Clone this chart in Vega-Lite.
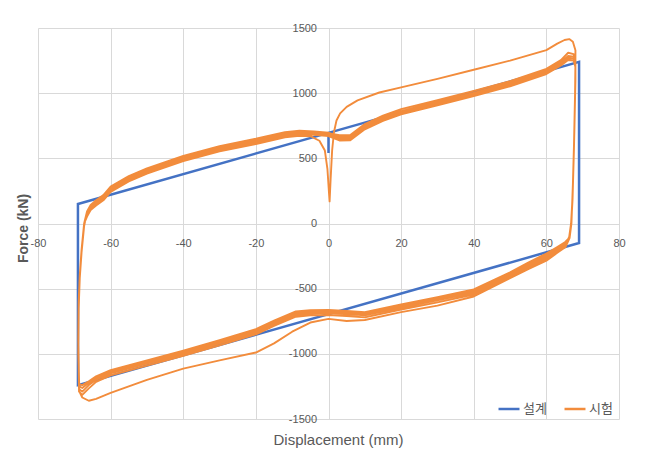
{
 "$schema": "https://vega.github.io/schema/vega-lite/v6.json",
 "width": 581, "height": 391,
 "autosize": "none",
 "padding": {"left": 38, "top": 28, "right": 28, "bottom": 40},
 "background": "white",
 "config": {"view": {"stroke": null}, "font": "Liberation Sans"},
 "data": {"values": [
  {"s":"설계","x":0,"y":540},{"s":"설계","x":0,"y":695},{"s":"설계","x":69,"y":1240},{"s":"설계","x":69,"y":-150},{"s":"설계","x":-69,"y":-1240},{"s":"설계","x":-69,"y":150},{"s":"설계","x":0,"y":695},
  {"s":"시험","x":0.3,"y":170},{"s":"시험","x":0.6,"y":350},{"s":"시험","x":1,"y":560},{"s":"시험","x":1.5,"y":700},{"s":"시험","x":2.2,"y":790},{"s":"시험","x":3.2,"y":845},{"s":"시험","x":5,"y":895},{"s":"시험","x":8,"y":945},{"s":"시험","x":14,"y":1005},{"s":"시험","x":20,"y":1045},{"s":"시험","x":30,"y":1110},{"s":"시험","x":40,"y":1180},{"s":"시험","x":50,"y":1250},{"s":"시험","x":60,"y":1330},{"s":"시험","x":63,"y":1380},{"s":"시험","x":65,"y":1408},{"s":"시험","x":66.3,"y":1415},{"s":"시험","x":67.3,"y":1395},{"s":"시험","x":68,"y":1330},
  {"s":"시험","x":68,"y":1100},{"s":"시험","x":67.7,"y":700},{"s":"시험","x":67.3,"y":300},{"s":"시험","x":66.9,"y":0},{"s":"시험","x":66.4,"y":-110},{"s":"시험","x":65.3,"y":-180},{"s":"시험","x":63,"y":-225},{"s":"시험","x":60,"y":-285},{"s":"시험","x":55,"y":-350},{"s":"시험","x":50,"y":-420},{"s":"시험","x":40,"y":-560},{"s":"시험","x":30,"y":-630},{"s":"시험","x":20,"y":-680},{"s":"시험","x":10,"y":-740},{"s":"시험","x":5,"y":-748},{"s":"시험","x":0,"y":-732},{"s":"시험","x":-5,"y":-760},{"s":"시험","x":-10,"y":-830},{"s":"시험","x":-15,"y":-920},{"s":"시험","x":-20,"y":-990},{"s":"시험","x":-30,"y":-1050},{"s":"시험","x":-40,"y":-1113},{"s":"시험","x":-50,"y":-1200},{"s":"시험","x":-60,"y":-1300},{"s":"시험","x":-64,"y":-1345},{"s":"시험","x":-66,"y":-1360},{"s":"시험","x":-67.8,"y":-1335},{"s":"시험","x":-68.6,"y":-1290},
  {"s":"시험","x":-68.9,"y":-1000},{"s":"시험","x":-68.8,"y":-650},{"s":"시험","x":-68.5,"y":-420},{"s":"시험","x":-68,"y":-220},{"s":"시험","x":-67.3,"y":-20},{"s":"시험","x":-66.5,"y":85},{"s":"시험","x":-65.5,"y":140},{"s":"시험","x":-64,"y":175},{"s":"시험","x":-62,"y":215},{"s":"시험","x":-60,"y":280},{"s":"시험","x":-55,"y":360},{"s":"시험","x":-50,"y":420},{"s":"시험","x":-40,"y":515},{"s":"시험","x":-30,"y":590},{"s":"시험","x":-20,"y":647},{"s":"시험","x":-12,"y":698},{"s":"시험","x":-8,"y":708},{"s":"시험","x":-4,"y":703},{"s":"시험","x":0,"y":693},
  {"s":"시험","x":3,"y":677},{"s":"시험","x":6,"y":679},{"s":"시험","x":10,"y":763},{"s":"시험","x":15,"y":827},{"s":"시험","x":20,"y":877},{"s":"시험","x":30,"y":947},{"s":"시험","x":40,"y":1017},{"s":"시험","x":50,"y":1093},{"s":"시험","x":60,"y":1187},{"s":"시험","x":64,"y":1253},{"s":"시험","x":66,"y":1310},{"s":"시험","x":67.5,"y":1300},{"s":"시험","x":68,"y":1240},
  {"s":"시험","x":67.9,"y":1000},{"s":"시험","x":67.6,"y":600},{"s":"시험","x":67.2,"y":200},{"s":"시험","x":66.8,"y":0},{"s":"시험","x":66.3,"y":-100},{"s":"시험","x":65.2,"y":-170},{"s":"시험","x":63,"y":-220},{"s":"시험","x":60,"y":-270},{"s":"시험","x":55,"y":-340},{"s":"시험","x":50,"y":-415},{"s":"시험","x":40,"y":-545},{"s":"시험","x":30,"y":-605},{"s":"시험","x":20,"y":-660},{"s":"시험","x":10,"y":-720},{"s":"시험","x":5,"y":-710},{"s":"시험","x":0,"y":-703},{"s":"시험","x":-5,"y":-705},{"s":"시험","x":-9,"y":-715},{"s":"시험","x":-15,"y":-785},{"s":"시험","x":-20,"y":-850},{"s":"시험","x":-30,"y":-935},{"s":"시험","x":-40,"y":-1015},{"s":"시험","x":-50,"y":-1090},{"s":"시험","x":-60,"y":-1165},{"s":"시험","x":-64,"y":-1215},{"s":"시험","x":-66,"y":-1265},{"s":"시험","x":-67.8,"y":-1315},{"s":"시험","x":-68.7,"y":-1290},
  {"s":"시험","x":-68.9,"y":-900},{"s":"시험","x":-68.8,"y":-600},{"s":"시험","x":-68.5,"y":-400},{"s":"시험","x":-68,"y":-200},{"s":"시험","x":-67.3,"y":0},{"s":"시험","x":-66.5,"y":93},{"s":"시험","x":-65.5,"y":143},{"s":"시험","x":-64,"y":178},{"s":"시험","x":-62,"y":218},{"s":"시험","x":-60,"y":283},{"s":"시험","x":-55,"y":363},{"s":"시험","x":-50,"y":423},{"s":"시험","x":-40,"y":518},{"s":"시험","x":-30,"y":593},{"s":"시험","x":-20,"y":650},{"s":"시험","x":-12,"y":701},{"s":"시험","x":-8,"y":712},{"s":"시험","x":-4,"y":707},{"s":"시험","x":0,"y":697},
  {"s":"시험","x":3,"y":662},{"s":"시험","x":6,"y":664},{"s":"시험","x":10,"y":748},{"s":"시험","x":15,"y":812},{"s":"시험","x":20,"y":862},{"s":"시험","x":30,"y":932},{"s":"시험","x":40,"y":1002},{"s":"시험","x":50,"y":1078},{"s":"시험","x":60,"y":1172},{"s":"시험","x":64,"y":1238},{"s":"시험","x":66,"y":1285},{"s":"시험","x":67.5,"y":1280},{"s":"시험","x":68,"y":1225},
  {"s":"시험","x":67.9,"y":990},{"s":"시험","x":67.6,"y":590},{"s":"시험","x":67.2,"y":190},{"s":"시험","x":66.8,"y":-10},{"s":"시험","x":66.3,"y":-105},{"s":"시험","x":65.2,"y":-160},{"s":"시험","x":63,"y":-205},{"s":"시험","x":60,"y":-255},{"s":"시험","x":55,"y":-325},{"s":"시험","x":50,"y":-400},{"s":"시험","x":40,"y":-530},{"s":"시험","x":30,"y":-590},{"s":"시험","x":20,"y":-645},{"s":"시험","x":10,"y":-705},{"s":"시험","x":5,"y":-695},{"s":"시험","x":0,"y":-688},{"s":"시험","x":-5,"y":-690},{"s":"시험","x":-9,"y":-700},{"s":"시험","x":-15,"y":-770},{"s":"시험","x":-20,"y":-835},{"s":"시험","x":-30,"y":-920},{"s":"시험","x":-40,"y":-1000},{"s":"시험","x":-50,"y":-1075},{"s":"시험","x":-60,"y":-1150},{"s":"시험","x":-64,"y":-1198},{"s":"시험","x":-66,"y":-1240},{"s":"시험","x":-67.8,"y":-1290},{"s":"시험","x":-68.7,"y":-1270},
  {"s":"시험","x":-68.9,"y":-900},{"s":"시험","x":-68.8,"y":-600},{"s":"시험","x":-68.5,"y":-400},{"s":"시험","x":-68,"y":-200},{"s":"시험","x":-67.3,"y":0},{"s":"시험","x":-66.5,"y":78},{"s":"시험","x":-65.5,"y":128},{"s":"시험","x":-64,"y":163},{"s":"시험","x":-62,"y":203},{"s":"시험","x":-60,"y":268},{"s":"시험","x":-55,"y":348},{"s":"시험","x":-50,"y":408},{"s":"시험","x":-40,"y":503},{"s":"시험","x":-30,"y":578},{"s":"시험","x":-20,"y":635},{"s":"시험","x":-12,"y":686},{"s":"시험","x":-8,"y":697},{"s":"시험","x":-4,"y":692},{"s":"시험","x":0,"y":682},
  {"s":"시험","x":3,"y":650},{"s":"시험","x":6,"y":652},{"s":"시험","x":10,"y":736},{"s":"시험","x":15,"y":800},{"s":"시험","x":20,"y":850},{"s":"시험","x":30,"y":920},{"s":"시험","x":40,"y":990},{"s":"시험","x":50,"y":1066},{"s":"시험","x":60,"y":1160},{"s":"시험","x":64,"y":1226},{"s":"시험","x":66,"y":1270},{"s":"시험","x":67.5,"y":1265},{"s":"시험","x":68,"y":1212},
  {"s":"시험","x":67.9,"y":980},{"s":"시험","x":67.6,"y":585},{"s":"시험","x":67.2,"y":185},{"s":"시험","x":66.8,"y":-15},{"s":"시험","x":66.3,"y":-108},{"s":"시험","x":65.2,"y":-152},{"s":"시험","x":63,"y":-193},{"s":"시험","x":60,"y":-243},{"s":"시험","x":55,"y":-313},{"s":"시험","x":50,"y":-388},{"s":"시험","x":40,"y":-518},{"s":"시험","x":30,"y":-578},{"s":"시험","x":20,"y":-633},{"s":"시험","x":10,"y":-693},{"s":"시험","x":5,"y":-683},{"s":"시험","x":0,"y":-676},{"s":"시험","x":-5,"y":-678},{"s":"시험","x":-9,"y":-688},{"s":"시험","x":-15,"y":-758},{"s":"시험","x":-20,"y":-823},{"s":"시험","x":-30,"y":-908},{"s":"시험","x":-40,"y":-988},{"s":"시험","x":-50,"y":-1063},{"s":"시험","x":-60,"y":-1138},{"s":"시험","x":-64,"y":-1186},{"s":"시험","x":-66,"y":-1222},{"s":"시험","x":-67.8,"y":-1262},{"s":"시험","x":-68.7,"y":-1250},
  {"s":"시험","x":-68.9,"y":-900},{"s":"시험","x":-68.8,"y":-600},{"s":"시험","x":-68.5,"y":-400},{"s":"시험","x":-68,"y":-200},{"s":"시험","x":-67.3,"y":0},{"s":"시험","x":-66.5,"y":66},{"s":"시험","x":-65.5,"y":116},{"s":"시험","x":-64,"y":151},{"s":"시험","x":-62,"y":191},{"s":"시험","x":-60,"y":256},{"s":"시험","x":-55,"y":336},{"s":"시험","x":-50,"y":396},{"s":"시험","x":-40,"y":491},{"s":"시험","x":-30,"y":566},{"s":"시험","x":-20,"y":623},{"s":"시험","x":-12,"y":674},{"s":"시험","x":-8,"y":685},{"s":"시험","x":-4,"y":680},{"s":"시험","x":0,"y":670},
  {"s":"시험","x":3,"y":637},{"s":"시험","x":6,"y":639},{"s":"시험","x":10,"y":723},{"s":"시험","x":15,"y":787},{"s":"시험","x":20,"y":837},{"s":"시험","x":30,"y":907},{"s":"시험","x":40,"y":977},{"s":"시험","x":50,"y":1053},{"s":"시험","x":60,"y":1147},{"s":"시험","x":64,"y":1213},{"s":"시험","x":66,"y":1255},{"s":"시험","x":67.5,"y":1250},{"s":"시험","x":68,"y":1200},
  {"s":"시험","x":67.9,"y":975},{"s":"시험","x":67.6,"y":580},{"s":"시험","x":67.2,"y":180},{"s":"시험","x":66.8,"y":-18},{"s":"시험","x":66.3,"y":-110},{"s":"시험","x":65.2,"y":-142},{"s":"시험","x":63,"y":-180},{"s":"시험","x":60,"y":-230},{"s":"시험","x":55,"y":-300},{"s":"시험","x":50,"y":-375},{"s":"시험","x":40,"y":-505},{"s":"시험","x":30,"y":-565},{"s":"시험","x":20,"y":-620},{"s":"시험","x":10,"y":-680},{"s":"시험","x":5,"y":-670},{"s":"시험","x":0,"y":-663},{"s":"시험","x":-5,"y":-665},{"s":"시험","x":-9,"y":-675},{"s":"시험","x":-15,"y":-745},{"s":"시험","x":-20,"y":-810},{"s":"시험","x":-30,"y":-895},{"s":"시험","x":-40,"y":-975},{"s":"시험","x":-50,"y":-1050},{"s":"시험","x":-60,"y":-1125},{"s":"시험","x":-64,"y":-1173},{"s":"시험","x":-66,"y":-1210},{"s":"시험","x":-67.8,"y":-1240},{"s":"시험","x":-68.7,"y":-1232},
  {"s":"시험","x":-68.9,"y":-900},{"s":"시험","x":-68.8,"y":-600},{"s":"시험","x":-68.5,"y":-400},{"s":"시험","x":-68,"y":-200},{"s":"시험","x":-67.3,"y":0},{"s":"시험","x":-66.5,"y":53},{"s":"시험","x":-65.5,"y":103},{"s":"시험","x":-64,"y":138},{"s":"시험","x":-62,"y":178},{"s":"시험","x":-60,"y":243},{"s":"시험","x":-55,"y":323},{"s":"시험","x":-50,"y":383},{"s":"시험","x":-40,"y":478},{"s":"시험","x":-30,"y":553},{"s":"시험","x":-20,"y":610},{"s":"시험","x":-12,"y":661},{"s":"시험","x":-8,"y":672},{"s":"시험","x":-5,"y":670},{"s":"시험","x":-2.5,"y":635},{"s":"시험","x":-1,"y":560},{"s":"시험","x":-0.3,"y":420},{"s":"시험","x":0.1,"y":250},{"s":"시험","x":0.3,"y":170}
 ]},
 "encoding": {
  "x": {"field": "x", "type": "quantitative",
   "scale": {"domain": [-80, 80], "nice": false, "zero": false},
   "axis": {"title": "Displacement (mm)", "orient": "bottom", "offset": -195.5,
    "values": [-80, -60, -40, -20, 0, 20, 40, 60, 80], "labelExpr": "'' + datum.value",
    "grid": true, "gridColor": "#D9D9D9", "gridWidth": 1, "domain": false, "ticks": false,
    "labelPadding": 14, "labelFlush": false, "labelOverlap": false,
    "labelColor": "#595959", "labelFontSize": 11, "labelFont": "Liberation Sans",
    "titleX": 300, "titleY": 216, "titleBaseline": "middle", "titleAlign": "center",
    "titleFontSize": 15, "titleFontWeight": "normal", "titleColor": "#595959", "titleFont": "Liberation Sans"}},
  "y": {"field": "y", "type": "quantitative",
   "scale": {"domain": [-1500, 1500], "nice": false, "zero": false},
   "axis": {"title": "Force (kN)", "orient": "left", "offset": -290.5,
    "values": [-1500, -1000, -500, 0, 500, 1000, 1500], "labelExpr": "'' + datum.value",
    "grid": true, "gridColor": "#D9D9D9", "gridWidth": 1, "domain": false, "ticks": false,
    "labelPadding": 12, "labelFlush": false, "labelOverlap": false,
    "labelColor": "#595959", "labelFontSize": 11, "labelFont": "Liberation Sans",
    "titleX": -305.5, "titleY": 200, "titleAngle": 270, "titleBaseline": "middle", "titleAlign": "center",
    "titleFontSize": 14, "titleFontWeight": "bold", "titleColor": "#595959", "titleFont": "Liberation Sans"}},
  "color": {"field": "s", "type": "nominal",
   "scale": {"domain": ["설계", "시험"], "range": ["#4472C4", "#F28C3C"]},
   "legend": {"orient": "none", "legendX": 459, "legendY": 369, "direction": "horizontal", "title": null,
    "symbolType": "stroke", "symbolSize": 440, "symbolStrokeWidth": 2.5,
    "labelFontSize": 13, "labelColor": "#595959", "labelFont": "Noto Sans CJK KR",
    "columnPadding": 12, "labelOffset": 2, "padding": 0}},
  "order": {"value": null}
 },
 "layer": [
  {"transform": [{"filter": "datum.s === '설계'"}],
   "mark": {"type": "line", "strokeWidth": 2.5, "strokeJoin": "miter"}},
  {"transform": [{"filter": "datum.s === '시험'"}],
   "mark": {"type": "line", "strokeWidth": 1.9, "strokeJoin": "round", "strokeCap": "round"}}
 ]
}
